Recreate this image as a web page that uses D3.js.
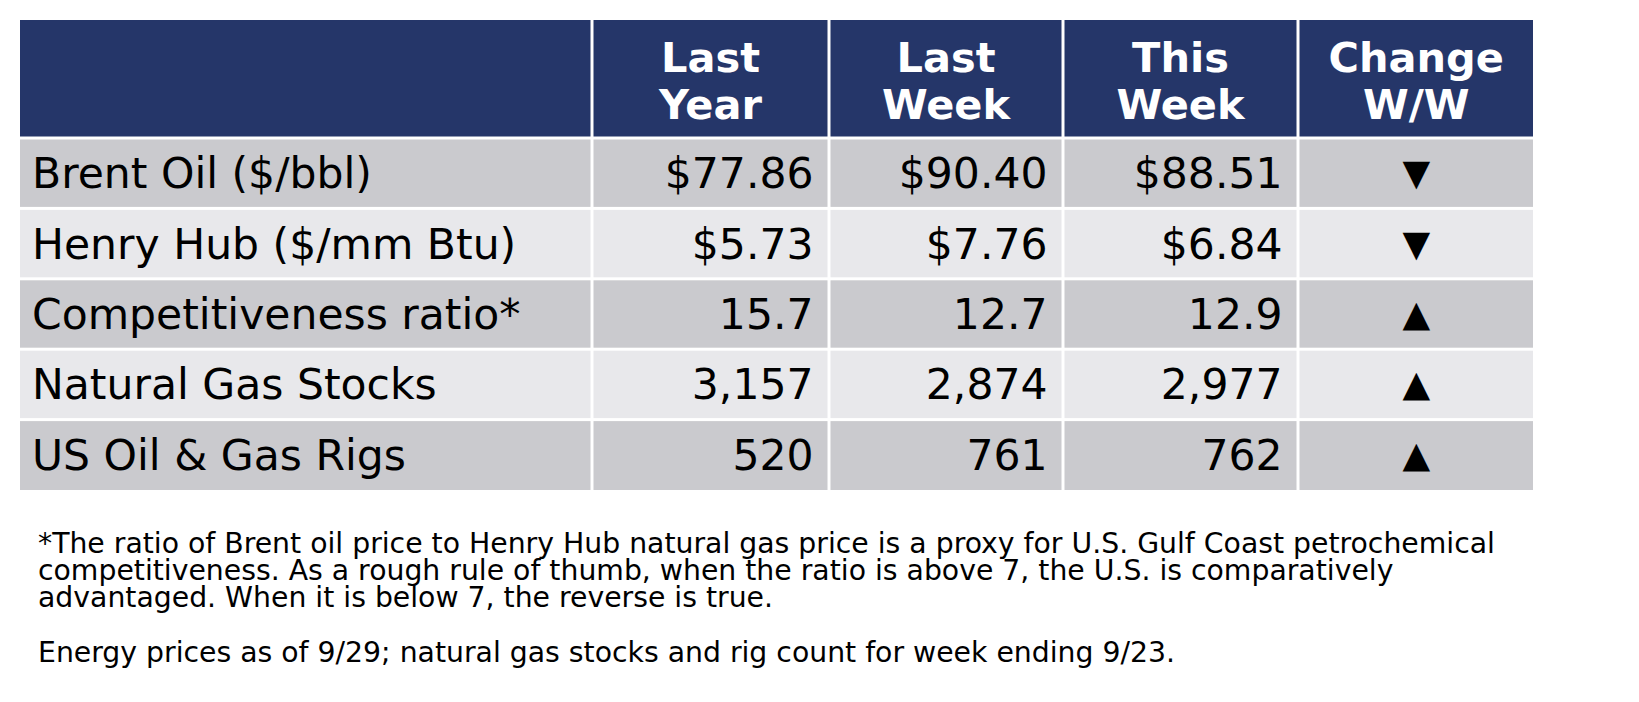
<!DOCTYPE html><html><head><meta charset="utf-8"><script src="https://cdn.jsdelivr.net/npm/d3@7"></script>
<style>body{margin:0;background:#fff}</style></head><body><svg id="c" width="1639" height="702"></svg><script>
const headers=["","Last\nYear","Last\nWeek","This\nWeek","Change\nW/W"];
const rowLabels=["Brent Oil ($/bbl)","Henry Hub ($/mm Btu)","Competitiveness ratio*","Natural Gas Stocks","US Oil & Gas Rigs"];
const lastYear=["$77.86","$5.73","15.7","3,157","520"];
const lastWeek=["$90.40","$7.76","12.7","2,874","761"];
const thisWeek=["$88.51","$6.84","12.9","2,977","762"];
const change=["▼","▼","▲","▲","▲"];
const notes=["*The ratio of Brent oil price to Henry Hub natural gas price is a proxy for U.S. Gulf Coast petrochemical","competitiveness. As a rough rule of thumb, when the ratio is above 7, the U.S. is comparatively","advantaged. When it is below 7, the reverse is true."];
const note2="Energy prices as of 9/29; natural gas stocks and rig count for week ending 9/23.";
const svg=d3.select("#c"),F="DejaVu Sans, Verdana, sans-serif";
const colEdges=[20,592,829,1063,1298,1533];
const hH=118,rH=(490-20-hH)/5;
const rowTop=i=>i===0?20:20+hH+(i-1)*rH;
const rowH=i=>i===0?hH:rH;
const cols=[null,lastYear,lastWeek,thisWeek,change];
for(let r=0;r<6;r++){for(let c=0;c<5;c++){
 const x0=colEdges[c]+(c?1.5:0),x1=colEdges[c+1]-(c<4?1.5:0);
 svg.append("rect").attr("x",x0).attr("y",rowTop(r)+(r?1.5:0)).attr("width",x1-x0).attr("height",rowH(r)-(r?1.5:0)-(r<5?1.5:0))
  .attr("fill",r===0?"#253669":(r%2?"#cacace":"#e8e8eb"));
 if(r===0&&c>0){headers[c].split("\n").forEach((t,k)=>svg.append("text").attr("x",(x0+x1)/2).attr("y",rowTop(0)+52+k*47).attr("text-anchor","middle").attr("font-family",F).attr("font-weight","bold").attr("font-size",41.5).attr("fill","#fff").text(t));}
 if(r>0){const cy=rowTop(r)+rH/2+15;
  if(c===0)svg.append("text").attr("x",32).attr("y",cy).attr("font-family",F).attr("font-size",42.5).attr("fill","#000").text(rowLabels[r-1]);
  else if(c<4)svg.append("text").attr("x",x1-14).attr("y",cy).attr("text-anchor","end").attr("font-family",F).attr("font-size",42.5).attr("fill","#000").text(cols[c][r-1]);
  else svg.append("text").attr("x",(x0+x1)/2).attr("y",cy-3).attr("text-anchor","middle").attr("font-family",F).attr("font-size",36).attr("fill","#000").text(cols[c][r-1]);}
}}
notes.forEach((t,i)=>svg.append("text").attr("x",38).attr("y",553+i*27).attr("font-family",F).attr("font-size",28.3).attr("fill","#000").text(t));
svg.append("text").attr("x",38).attr("y",662).attr("font-family",F).attr("font-size",28.3).attr("fill","#000").text(note2);
</script></body></html>
